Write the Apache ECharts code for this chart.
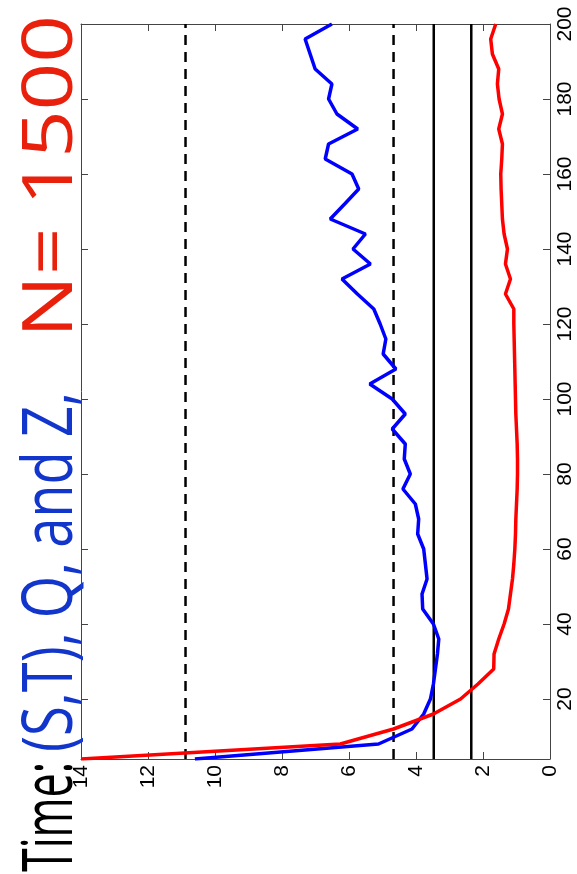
<!DOCTYPE html>
<html><head><meta charset="utf-8">
<script src="https://cdn.jsdelivr.net/npm/echarts@6/dist/echarts.min.js"></script>
<style>html,body{margin:0;padding:0;background:#fff}#c{width:577px;height:874px}</style>
</head><body><div id="c"></div>
<script>
// ---- data ----
const times = [4,8,12,16,20,24,28,32,36,40,44,48,52,56,60,64,68,72,76,80,84,88,92,96,100,
  104,108,112,116,120,124,128,132,136,140,144,148,152,156,160,164,168,172,176,180,184,188,192,196,200];
const redValues = [14.0,6.26,4.67,3.48,2.67,2.15,1.68,1.67,1.53,1.37,1.24,1.18,1.12,1.08,1.05,1.03,1.02,1.0,0.98,0.97,0.97,0.98,1.0,1.02,1.03,
  1.04,1.05,1.06,1.07,1.08,1.08,1.33,1.18,1.33,1.27,1.37,1.42,1.44,1.46,1.47,1.44,1.42,1.53,1.42,1.52,1.57,1.53,1.72,1.77,1.62];
const blueValues = [10.6,5.12,4.12,3.77,3.57,3.48,3.42,3.36,3.32,3.48,3.8,3.82,3.67,3.72,3.77,3.95,3.92,4.02,4.39,4.17,4.35,4.32,4.71,4.32,4.71,
  5.38,4.6,4.98,4.9,5.07,5.26,5.75,6.21,5.36,5.88,5.51,6.56,6.13,5.71,5.91,6.71,6.61,5.74,6.36,6.61,6.51,7.01,7.16,7.31,6.51];
const dashedLevels = [10.88, 4.67];
const solidLevels = [3.47, 2.35];
const valueTicks = [0,2,4,6,8,10,12,14];
const timeTicks = [20,40,60,80,100,120,140,160,180,200];
const timeRange = [4, 200];
const titleTexts = ['Time:', '(S,T), Q, and Z,', 'N= 1500'];
const titleColors = ['#000000', '#1236cc', '#e8200c'];

// ---- layout ----
const titleSpans = [[872, 762], [752, 392], [338, 15]]; // screen y start/end of each title piece
const TITLE_FONT = '"Open Sans", "DejaVu Sans", sans-serif';
const TITLE_SIZE = 48;
const TITLE_WEIGHT = 'normal';
const ctx = document.createElement('canvas').getContext('2d');
function measure(t){ ctx.font = TITLE_WEIGHT + ' ' + TITLE_SIZE + 'px ' + TITLE_FONT; return ctx.measureText(t).width; }

const axisColor = '#444';
const labelStyle = {fontSize: 21, color: '#000', fontFamily: '"Liberation Sans", Arial, sans-serif'};

function pairs(vals){ return vals.map((v,i)=>[v, times[i]]); }
function levelSeries(v, dashed){
  return {type:'line', xAxisIndex:0, yAxisIndex:0, data:[[v, timeRange[0]],[v, timeRange[1]]],
    showSymbol:false, symbol:'none', silent:true, animation:false,
    lineStyle:{color:'#000', width:2.5, type: dashed ? [10,7] : 'solid'}, z:2};
}

const chart = echarts.init(document.getElementById('c'), null, {renderer:'canvas'});
chart.setOption({
  animation:false,
  backgroundColor:'#fff',
  grid:{left:81, right:27, top:24, bottom:115, containLabel:false, outerBoundsMode:'none'},
  xAxis:[
    {type:'value', min:valueTicks[0], max:valueTicks[valueTicks.length-1], interval:2, inverse:true, position:'bottom',
     axisLine:{show:true, onZero:false, lineStyle:{color:axisColor, width:1}},
     axisTick:{show:true, inside:true, length:7, lineStyle:{color:axisColor}},
     axisLabel:Object.assign({rotate:90, margin:6, showMinLabel:true, showMaxLabel:true}, labelStyle),
     splitLine:{show:false}},
    {type:'value', min:valueTicks[0], max:valueTicks[valueTicks.length-1], interval:2, inverse:true, position:'top',
     axisLine:{show:true, onZero:false, lineStyle:{color:axisColor, width:1}},
     axisTick:{show:true, inside:true, length:7, lineStyle:{color:axisColor}},
     axisLabel:{show:false}, splitLine:{show:false}}
  ],
  yAxis:[
    {type:'value', min:timeRange[0], max:timeRange[1], position:'right',
     axisLine:{show:true, onZero:false, lineStyle:{color:axisColor, width:1}},
     axisTick:{show:true, inside:true, length:7, customValues:timeTicks, lineStyle:{color:axisColor}},
     axisLabel:Object.assign({rotate:90, margin:5, customValues:timeTicks}, labelStyle),
     splitLine:{show:false}},
    {type:'value', min:timeRange[0], max:timeRange[1], position:'left',
     axisLine:{show:true, onZero:false, lineStyle:{color:axisColor, width:1}},
     axisTick:{show:true, inside:true, length:7, customValues:timeTicks, lineStyle:{color:axisColor}},
     axisLabel:{show:false}, splitLine:{show:false}}
  ],
  series:[
    ...dashedLevels.map(v=>levelSeries(v,true)),
    ...solidLevels.map(v=>levelSeries(v,false)),
    {name:'Q', type:'line', data:pairs(blueValues), showSymbol:false, symbol:'none', lineStyle:{color:'#0000ff', width:3.5}, z:3},
    {name:'Z', type:'line', data:pairs(redValues), showSymbol:false, symbol:'none', lineStyle:{color:'#ff0000', width:3.5}, z:4}
  ],
  graphic: titleTexts.map((t,i)=>({
    type:'text', x:52, y:titleSpans[i][0], rotation:Math.PI/2,
    scaleX:(titleSpans[i][0]-titleSpans[i][1])/measure(t), scaleY:1.45,
    style:{text:t, fill:titleColors[i], fontSize:TITLE_SIZE, fontFamily:TITLE_FONT, fontWeight:TITLE_WEIGHT,
      align:'left', verticalAlign:'middle', textAlign:'left', textVerticalAlign:'middle'}
  }))
});
</script></body></html>
